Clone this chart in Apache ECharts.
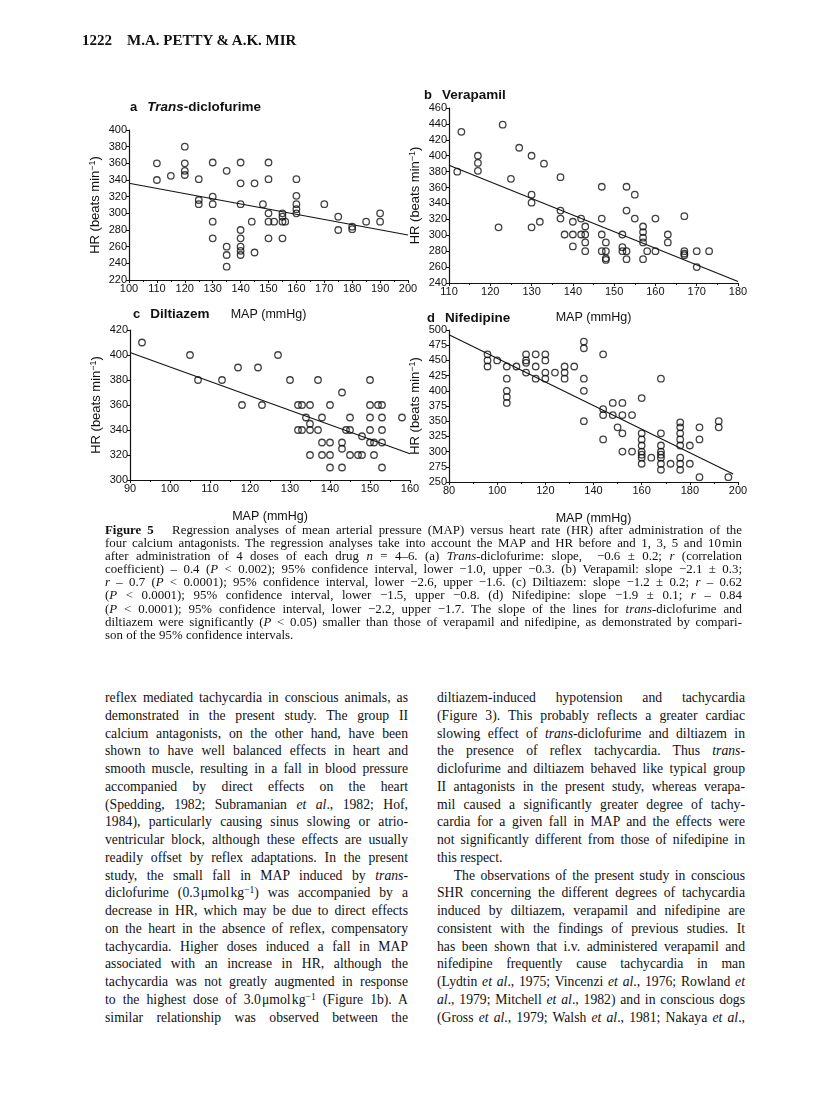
<!DOCTYPE html>
<html>
<head>
<meta charset="utf-8">
<script src="https://cdn.jsdelivr.net/npm/echarts@6/dist/echarts.min.js"></script>
<style>
  html, body { margin: 0; padding: 0; background: #fff; }
  #page { position: relative; width: 816px; height: 1099px; overflow: hidden; }
  #chart { position: absolute; left: 0; top: 0; width: 816px; height: 540px; }
  .txt { position: absolute; font-family: "Liberation Serif", "DejaVu Serif", serif; color: #111; }
  .j { text-align: justify; text-align-last: justify; white-space: nowrap; }
  .l { text-align: left; white-space: nowrap; }
  #header { left: 82px; top: 32px; font-size: 15px; font-weight: bold; }
  #caption { left: 105px; top: 524px; width: 637px; font-size: 12.9px; line-height: 13.1px; }
  #colL { left: 105px; top: 689px; width: 303px; font-size: 13.7px; line-height: 17.75px; }
  #colR { left: 437px; top: 689px; width: 308px; font-size: 13.7px; line-height: 17.75px; }
  sup { font-size: 70%; line-height: 0; vertical-align: 0.45em; }
</style>
</head>
<body>
<div id="page">
  <div id="chart"></div>
  <div id="header" class="txt">1222&nbsp;&nbsp;&nbsp;&nbsp;M.A. PETTY &amp; A.K. MIR</div>
  <div id="caption" class="txt">
    <div class="j"><b>Figure 5</b>&nbsp;&nbsp; Regression analyses of mean arterial pressure (MAP) versus heart rate (HR) after administration of the</div>
    <div class="j">four calcium antagonists. The regression analyses take into account the MAP and HR before and 1, 3, 5 and 10&#8202;min</div>
    <div class="j">after administration of 4 doses of each drug <i>n</i> = 4–6. (a) <i>Trans</i>-diclofurime: slope, &nbsp;−0.6 ± 0.2; <i>r</i> (correlation</div>
    <div class="j">coefficient) – 0.4 (<i>P</i> &lt; 0.002); 95% confidence interval, lower −1.0, upper −0.3. (b) Verapamil: slope −2.1 ± 0.3;</div>
    <div class="j"><i>r</i> – 0.7 (<i>P</i> &lt; 0.0001); 95% confidence interval, lower −2.6, upper −1.6. (c) Diltiazem: slope −1.2 ± 0.2; <i>r</i> – 0.62</div>
    <div class="j">(<i>P</i> &lt; 0.0001); 95% confidence interval, lower −1.5, upper −0.8. (d) Nifedipine: slope −1.9 ± 0.1; <i>r</i> – 0.84</div>
    <div class="j">(<i>P</i> &lt; 0.0001); 95% confidence interval, lower −2.2, upper −1.7. The slope of the lines for <i>trans</i>-diclofurime and</div>
    <div class="j">diltiazem were significantly (<i>P</i> &lt; 0.05) smaller than those of verapamil and nifedipine, as demonstrated by compari-</div>
    <div class="l">son of the 95% confidence intervals.</div>
  </div>
  <div id="colL" class="txt">
    <div class="j">reflex mediated tachycardia in conscious animals, as</div>
    <div class="j">demonstrated in the present study. The group II</div>
    <div class="j">calcium antagonists, on the other hand, have been</div>
    <div class="j">shown to have well balanced effects in heart and</div>
    <div class="j">smooth muscle, resulting in a fall in blood pressure</div>
    <div class="j">accompanied by direct effects on the heart</div>
    <div class="j">(Spedding, 1982; Subramanian <i>et al</i>., 1982; Hof,</div>
    <div class="j">1984), particularly causing sinus slowing or atrio-</div>
    <div class="j">ventricular block, although these effects are usually</div>
    <div class="j">readily offset by reflex adaptations. In the present</div>
    <div class="j">study, the small fall in MAP induced by <i>trans</i>-</div>
    <div class="j">diclofurime (0.3&#8202;μmol&#8202;kg<sup>−1</sup>) was accompanied by a</div>
    <div class="j">decrease in HR, which may be due to direct effects</div>
    <div class="j">on the heart in the absence of reflex, compensatory</div>
    <div class="j">tachycardia. Higher doses induced a fall in MAP</div>
    <div class="j">associated with an increase in HR, although the</div>
    <div class="j">tachycardia was not greatly augmented in response</div>
    <div class="j">to the highest dose of 3.0&#8202;μmol&#8202;kg<sup>−1</sup> (Figure 1b). A</div>
    <div class="j">similar relationship was observed between the</div>
  </div>
  <div id="colR" class="txt">
    <div class="j">diltiazem-induced hypotension and tachycardia</div>
    <div class="j">(Figure 3). This probably reflects a greater cardiac</div>
    <div class="j">slowing effect of <i>trans</i>-diclofurime and diltiazem in</div>
    <div class="j">the presence of reflex tachycardia. Thus <i>trans</i>-</div>
    <div class="j">diclofurime and diltiazem behaved like typical group</div>
    <div class="j">II antagonists in the present study, whereas verapa-</div>
    <div class="j">mil caused a significantly greater degree of tachy-</div>
    <div class="j">cardia for a given fall in MAP and the effects were</div>
    <div class="j">not significantly different from those of nifedipine in</div>
    <div class="l">this respect.</div>
    <div class="j">&nbsp;&nbsp;&nbsp;The observations of the present study in conscious</div>
    <div class="j">SHR concerning the different degrees of tachycardia</div>
    <div class="j">induced by diltiazem, verapamil and nifedipine are</div>
    <div class="j">consistent with the findings of previous studies. It</div>
    <div class="j">has been shown that i.v. administered verapamil and</div>
    <div class="j">nifedipine frequently cause tachycardia in man</div>
    <div class="j">(Lydtin <i>et al</i>., 1975; Vincenzi <i>et al</i>., 1976; Rowland <i>et</i></div>
    <div class="j"><i>al</i>., 1979; Mitchell <i>et al</i>., 1982) and in conscious dogs</div>
    <div class="j">(Gross <i>et al</i>., 1979; Walsh <i>et al</i>., 1981; Nakaya <i>et al</i>.,</div>
  </div>
</div>
<script>
// (a) trans-diclofurime: [MAP, HR]
const transPts = [
  [110,360],[110,340],[115,345],[120,380],[120,360],[120,351],[120,346],[125,341],[125,316],[125,311],
  [130,361],[130,320],[130,311],[130,290],[130,270],[135,351],[135,260],[135,250],[135,236],
  [140,361],[140,336],[140,311],[140,280],[140,270],[140,260],[140,255],[140,250],[144,290],
  [145,336],[145,253],[148,311],[150,361],[150,341],[150,300],[150,290],[150,270],[152,290],
  [155,300],[155,296],[155,290],[156,290],[155,270],[160,341],[160,321],[160,311],[160,305],[160,300],
  [170,311],[175,296],[175,280],[180,284],[180,281],[185,290],[190,300],[190,290]
]
const transLine = [[100,336],[200,274]]

// (b) verapamil
const veraPts = [
  [112,380],[113,430],[117,400],[117,391],[117,381],[122,310],[123,439],[125,371],[127,410],
  [130,400],[130,351],[130,341],[130,310],[132,317],[133,390],[137,373],[137,331],[137,321],
  [138,301],[140,317],[140,301],[140,286],[142,321],[142,301],[143,311],[143,301],[143,291],[143,280],
  [147,361],[147,321],[147,301],[147,280],[148,291],[148,280],[148,271],[148,269],
  [152,301],[152,285],[152,280],[153,361],[153,331],[153,280],[153,270],[155,351],[155,321],
  [157,311],[157,304],[157,297],[157,291],[157,270],[158,280],[160,321],[160,280],
  [163,301],[163,291],[167,324],[167,280],[167,277],[167,275],[170,280],[170,260],[173,280]
]
const veraLine = [[110,388],[180,242]]

// (c) diltiazem
const diltPts = [
  [93,410],[105,400],[107,380],[113,380],[117,390],[118,360],[122,390],[123,360],[127,400],[130,380],
  [132,360],[133,360],[132,340],[133,340],[134,350],[135,360],[135,345],[135,340],[135,320],
  [137,340],[137,380],[138,350],[138,330],[138,320],[140,360],[140,330],[140,320],[140,310],
  [143,370],[143,330],[143,325],[143,310],[144,340],[145,350],[145,340],[145,320],[147,320],
  [148,320],[148,335],[150,380],[150,360],[150,350],[150,340],[150,330],[151,330],[151,320],
  [152,360],[153,360],[153,350],[153,340],[153,330],[153,310],[158,350]
]
const diltLine = [[90,402],[160,321]]

// (d) nifedipine
const nifePts = [
  [96,460],[96,450],[96,440],[100,450],[104,440],[104,420],[104,400],[104,390],[104,380],[108,440],
  [112,460],[112,450],[112,446],[112,430],[116,460],[116,440],[116,420],[120,460],[120,450],[120,430],
  [120,420],[124,430],[128,440],[128,430],[128,420],[132,440],[136,481],[136,470],[136,420],[136,400],
  [136,350],[144,460],[144,370],[144,360],[144,320],[148,380],[148,360],[150,340],[152,380],[152,360],
  [152,330],[152,300],[156,360],[156,300],[160,388],[160,330],[160,320],[160,310],[160,300],[160,295],
  [160,290],[160,280],[164,290],[168,420],[168,330],[168,310],[168,300],[168,295],[168,290],[168,280],
  [168,270],[172,280],[176,348],[176,340],[176,330],[176,320],[176,310],[176,290],[176,280],[176,270],
  [180,310],[180,280],[184,340],[184,320],[184,258],[192,350],[192,340],[196,258]
]
const nifeLine = [[80,492],[198,263]]

const xRanges = [[100,200,10],[110,180,10],[90,160,10],[80,200,20]]
const yRanges = [[220,400,20],[240,460,20],[300,420,20],[250,500,25]]

const chart = echarts.init(document.getElementById('chart'))

const grids = [
  { left: 129, top: 130, width: 279, height: 150 },
  { left: 449, top: 108, width: 289, height: 175 },
  { left: 130, top: 330, width: 280, height: 150 },
  { left: 449, top: 330, width: 289, height: 152 }
]

const sans = "'Liberation Sans', 'DejaVu Sans', sans-serif"
const ink = '#111'

const hrName = '{a|HR (beats min}{s|−1}{a|)}'
const hrRich = {
  a: { fontSize: 13, fontFamily: sans, color: ink },
  s: { fontSize: 9, fontFamily: sans, color: ink, verticalAlign: 'top', padding: [0, 0, 6, 0] }
}

const xAxes = xRanges.map((r, i) => ({
  type: 'value', gridIndex: i, min: r[0], max: r[1], interval: r[2],
  name: 'MAP (mmHg)', nameLocation: 'middle', nameGap: i < 2 ? 28 : 30,
  nameTextStyle: { fontSize: 12.5, fontFamily: sans, color: ink },
  axisLine: { lineStyle: { color: ink, width: 1.2 } },
  axisTick: { length: 3, lineStyle: { color: ink } },
  minorTick: { show: true, splitNumber: 2, length: 2, lineStyle: { color: ink } },
  axisLabel: { fontSize: 11, fontFamily: sans, color: ink, margin: 3 },
  splitLine: { show: false }
}))

const yAxes = yRanges.map((r, i) => ({
  type: 'value', gridIndex: i, min: r[0], max: r[1], interval: r[2],
  name: hrName, nameLocation: 'middle', nameGap: 26, nameRotate: 90,
  nameTextStyle: { rich: hrRich },
  axisLine: { show: true, lineStyle: { color: ink, width: 1.2 } },
  axisTick: { show: true, length: 3, lineStyle: { color: ink } },
  axisLabel: { fontSize: 11, fontFamily: sans, color: ink, margin: 2 },
  splitLine: { show: false }
}))

const ptSets = [transPts, veraPts, diltPts, nifePts]
const lineSets = [transLine, veraLine, diltLine, nifeLine]

const series = []
ptSets.forEach((pts, i) => {
  series.push({
    type: 'line', xAxisIndex: i, yAxisIndex: i, data: lineSets[i],
    showSymbol: false, silent: true, z: 1,
    lineStyle: { color: ink, width: 1.1 }
  })
  series.push({
    type: 'scatter', xAxisIndex: i, yAxisIndex: i, data: pts,
    symbol: 'circle', symbolSize: 6.5, z: 2,
    itemStyle: { color: 'rgba(255,255,255,0)', borderColor: ink, borderWidth: 1.3 }
  })
})

const titleRich = {
  b: { fontSize: 13, fontWeight: 'bold', fontFamily: sans, color: ink },
  n: { fontSize: 13.5, fontFamily: sans, color: ink },
  i: { fontSize: 13.5, fontStyle: 'italic', fontFamily: sans, color: ink }
}
const titles = [
  { left: 125, top: 93, text: '{b|a}  {i|Trans}{n|-diclofurime}' },
  { left: 419, top: 81, text: '{b|b}  {n|Verapamil}' },
  { left: 128, top: 300, text: '{b|c}  {n|Diltiazem}' },
  { left: 422, top: 304, text: '{b|d}  {n|Nifedipine}' }
].map(t => Object.assign(t, { textStyle: { rich: titleRich } }))

chart.setOption({
  animation: false,
  title: titles,
  grid: grids,
  xAxis: xAxes,
  yAxis: yAxes,
  series: series
})
</script>
</body>
</html>
